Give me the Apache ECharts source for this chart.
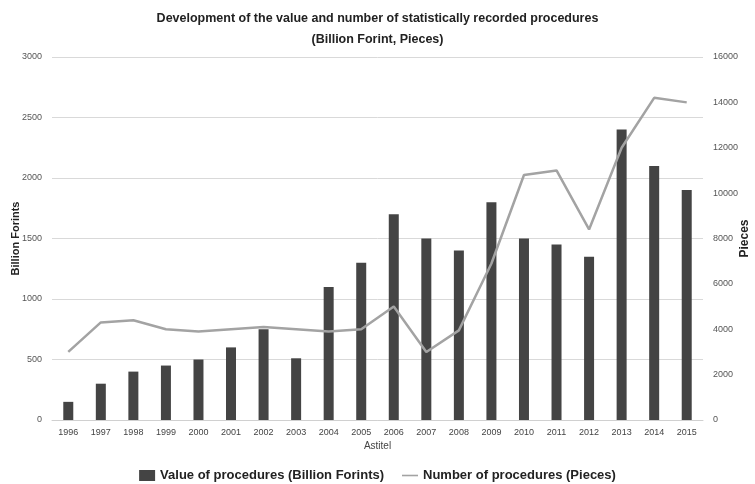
<!DOCTYPE html>
<html>
<head>
<meta charset="utf-8">
<script src="https://cdn.jsdelivr.net/npm/echarts@6/dist/echarts.min.js"></script>
<style>
  html, body { margin: 0; padding: 0; background: #fff; }
  #chart { width: 755px; height: 484px; }
</style>
</head>
<body>
<div id="chart"></div>
<script>
// Years on the category axis
const years = ['1996','1997','1998','1999','2000','2001','2002','2003','2004','2005',
               '2006','2007','2008','2009','2010','2011','2012','2013','2014','2015'];
// Value of procedures, billion forints
const valueBillion = [150, 300, 400, 450, 500, 600, 750, 510, 1100, 1300,
                      1700, 1500, 1400, 1800, 1500, 1450, 1350, 2400, 2100, 1900];
// Number of procedures, pieces
const countPieces = [3000, 4300, 4400, 4000, 3900, 4000, 4100, 4000, 3900, 4000,
                     5000, 3000, 3950, 6900, 10800, 11000, 8400, 12000, 14200, 14000];

const FONT = '"Liberation Sans", Arial, sans-serif';
const chart = echarts.init(document.getElementById('chart'), null, { renderer: 'canvas' });

chart.setOption({
  backgroundColor: '#ffffff',
  animation: false,
  textStyle: { fontFamily: FONT },
  title: {
    text: 'Development of the value and number of statistically recorded procedures\n(Billion Forint, Pieces)',
    left: 'center',
    top: 3,
    textStyle: { fontFamily: FONT, fontSize: 12.5, fontWeight: 'bold', color: '#222', lineHeight: 21 }
  },
  legend: {
    bottom: -3,
    left: 'center',
    itemGap: 18,
    itemWidth: 16,
    itemHeight: 11,
    textStyle: { fontFamily: FONT, fontSize: 13, fontWeight: 'bold', color: '#222' },
    data: [
      { name: 'Value of procedures (Billion Forints)', icon: 'rect' },
      { name: 'Number of procedures (Pieces)', icon: 'path://M0,0 L20,0 L20,2 L0,2 Z' }
    ]
  },
  grid: { left: 52, right: 52, top: 57, bottom: 64, containLabel: false, outerBoundsMode: 'none' },
  xAxis: {
    type: 'category',
    data: years,
    name: 'Astitel',
    nameLocation: 'middle',
    nameGap: 21,
    nameMoveOverlap: false,
    nameTextStyle: { fontFamily: FONT, fontSize: 10, color: '#444' },
    axisLine: { lineStyle: { color: '#d0d0d0' } },
    axisTick: { show: false },
    axisLabel: { fontFamily: FONT, fontSize: 9, color: '#444', margin: 8 }
  },
  yAxis: [
    {
      type: 'value',
      min: 0, max: 3000, interval: 500,
      name: 'Billion Forints',
      nameLocation: 'middle',
      nameGap: 31,
      nameMoveOverlap: false,
      nameTextStyle: { fontFamily: FONT, fontSize: 11, fontWeight: 'bold', color: '#222' },
      axisLine: { show: false },
      axisTick: { show: false },
      splitLine: { lineStyle: { color: '#d9d9d9', width: 1 } },
      axisLabel: { fontFamily: FONT, fontSize: 9, color: '#555', margin: 10, formatter: v => String(v) }
    },
    {
      type: 'value',
      min: 0, max: 16000, interval: 2000,
      name: 'Pieces',
      nameLocation: 'middle',
      nameGap: 36,
      nameRotate: 90,
      nameMoveOverlap: false,
      nameTextStyle: { fontFamily: FONT, fontSize: 12, fontWeight: 'bold', color: '#222' },
      axisLine: { show: false },
      axisTick: { show: false },
      splitLine: { show: false },
      axisLabel: { fontFamily: FONT, fontSize: 9, color: '#555', margin: 10, formatter: v => String(v) }
    }
  ],
  series: [
    {
      name: 'Value of procedures (Billion Forints)',
      type: 'bar',
      yAxisIndex: 0,
      data: valueBillion,
      barWidth: 10,
      itemStyle: { color: '#444444' }
    },
    {
      name: 'Number of procedures (Pieces)',
      type: 'line',
      yAxisIndex: 1,
      data: countPieces,
      symbol: 'none',
      lineStyle: { color: '#a3a3a3', width: 2.5 },
      itemStyle: { color: '#a3a3a3' }
    }
  ]
});
</script>
</body>
</html>
